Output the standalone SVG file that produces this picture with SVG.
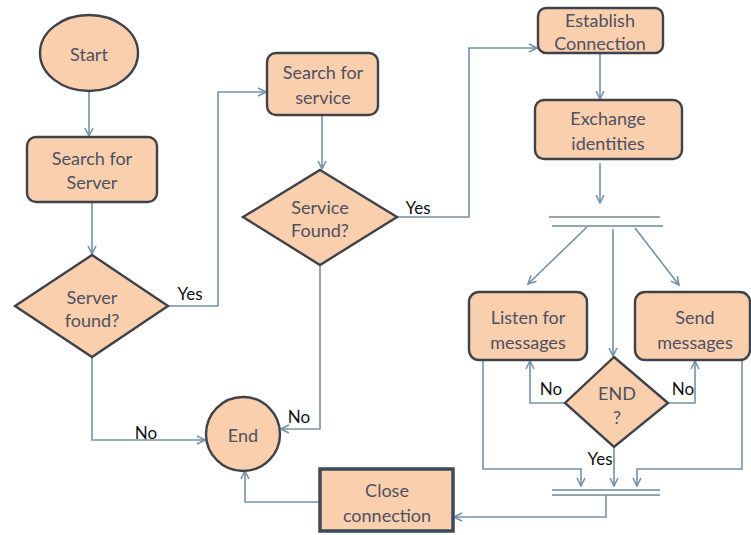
<svg xmlns="http://www.w3.org/2000/svg" width="751" height="535" viewBox="0 0 751 535">
  <style>
    .node { fill: #f9cfae; stroke: #3f4248; stroke-width: 2.4; }
    .thick { stroke: #3c4a5a; stroke-width: 3.5; }
    .txt { font-family: Lato, "Open Sans", sans-serif; font-size: 18px; fill: #4f5060; text-anchor: middle; dominant-baseline: central; }
    .lbl { font-family: Lato, "Open Sans", sans-serif; font-size: 17px; fill: #111111; text-anchor: middle; dominant-baseline: central; }
    .conn { fill: none; stroke: #7591a8; stroke-width: 1.6; }
    .bar { fill: none; stroke: #93a5b3; stroke-width: 2.2; }
  </style>
  <defs>
    <marker id="arrow" viewBox="0 0 10 10" refX="9" refY="5" markerWidth="10" markerHeight="10" markerUnits="userSpaceOnUse" orient="auto">
      <path d="M1,1 L9,5 L1,9" fill="none" stroke="#7591a8" stroke-width="1.6"/>
    </marker>
  </defs>
  <rect width="751" height="535" fill="#ffffff"/>

  <g id="connectors">
    <path class="conn" d="M89,92 V136" marker-end="url(#arrow)"/>
    <path class="conn" d="M92,202 V254" marker-end="url(#arrow)"/>
    <path class="conn" d="M168,306 H218 V92 H266" marker-end="url(#arrow)"/>
    <path class="conn" d="M322,115 V169" marker-end="url(#arrow)"/>
    <path class="conn" d="M397,217 H469 V48 H537" marker-end="url(#arrow)"/>
    <path class="conn" d="M600,53 V99" marker-end="url(#arrow)"/>
    <path class="conn" d="M600,163 V203" marker-end="url(#arrow)"/>
    <!-- fork -->
    <line class="bar" x1="549" y1="217" x2="660" y2="217"/>
    <line class="bar" x1="552" y1="226" x2="663" y2="226"/>
    <path class="conn" d="M587,227 L528,284" marker-end="url(#arrow)"/>
    <path class="conn" d="M613,229 V356" marker-end="url(#arrow)"/>
    <path class="conn" d="M635,228 L679,285" marker-end="url(#arrow)"/>
    <!-- END? loops -->
    <path class="conn" d="M565,403 H530 V361" marker-end="url(#arrow)"/>
    <path class="conn" d="M668,403 H695 V361" marker-end="url(#arrow)"/>
    <!-- join -->
    <path class="conn" d="M483,360 V469 H581 V486" marker-end="url(#arrow)"/>
    <path class="conn" d="M614,447 V486" marker-end="url(#arrow)"/>
    <path class="conn" d="M742,360 V469 H637 V486" marker-end="url(#arrow)"/>
    <line class="bar" x1="552" y1="490" x2="660" y2="490"/>
    <line class="bar" x1="552" y1="495" x2="660" y2="495"/>
    <path class="conn" d="M606,495 V517 H454" marker-end="url(#arrow)"/>
    <!-- to End -->
    <path class="conn" d="M92,357 V440 H205" marker-end="url(#arrow)"/>
    <path class="conn" d="M320,265 V429 H281" marker-end="url(#arrow)"/>
    <path class="conn" d="M319,502 H245 V471" marker-end="url(#arrow)"/>
  </g>

  <g id="start">
    <ellipse class="node" cx="89" cy="53" rx="49" ry="38"/>
    <text class="txt" x="89" y="54">Start</text>
  </g>
  <g id="search-server">
    <rect class="node" x="27" y="137" width="130" height="65" rx="9"/>
    <text class="txt" x="92" y="158">Search for</text>
    <text class="txt" x="92" y="182">Server</text>
  </g>
  <g id="server-found">
    <polygon class="node" points="92,255 168,306 92,357 15,306"/>
    <text class="txt" x="92" y="297">Server</text>
    <text class="txt" x="92" y="320">found?</text>
  </g>
  <g id="search-service">
    <rect class="node" x="267" y="53" width="111" height="62" rx="9"/>
    <text class="txt" x="323" y="72">Search for</text>
    <text class="txt" x="323" y="97">service</text>
  </g>
  <g id="service-found">
    <polygon class="node" points="320,170 397,217 320,265 243,217"/>
    <text class="txt" x="320" y="207">Service</text>
    <text class="txt" x="320" y="230">Found?</text>
  </g>
  <g id="establish">
    <rect class="node" x="538" y="8" width="125" height="45" rx="8"/>
    <text class="txt" x="600" y="20">Establish</text>
    <text class="txt" x="600" y="43">Connection</text>
  </g>
  <g id="exchange">
    <rect class="node" x="535" y="100" width="147" height="59" rx="9"/>
    <text class="txt" x="608" y="118">Exchange</text>
    <text class="txt" x="608" y="143">identities</text>
  </g>
  <g id="listen">
    <rect class="node" x="469" y="292" width="118" height="68" rx="10"/>
    <text class="txt" x="528" y="317">Listen for</text>
    <text class="txt" x="528" y="342">messages</text>
  </g>
  <g id="send">
    <rect class="node" x="635" y="292" width="115" height="68" rx="10"/>
    <text class="txt" x="695" y="317">Send</text>
    <text class="txt" x="695" y="342">messages</text>
  </g>
  <g id="end-check">
    <polygon class="node" points="614,357 668,403 614,447 565,403"/>
    <text class="txt" x="617" y="393">END</text>
    <text class="txt" x="617" y="417">?</text>
  </g>
  <g id="end">
    <circle class="node" cx="243" cy="434" r="37"/>
    <text class="txt" x="243" y="435">End</text>
  </g>
  <g id="close">
    <rect class="node thick" x="320" y="469" width="133" height="62"/>
    <text class="txt" x="387" y="490">Close</text>
    <text class="txt" x="387" y="515">connection</text>
  </g>

  <g id="labels">
    <text class="lbl" x="190" y="293">Yes</text>
    <text class="lbl" x="418" y="207">Yes</text>
    <text class="lbl" x="146" y="432">No</text>
    <text class="lbl" x="299" y="416">No</text>
    <text class="lbl" x="551" y="388">No</text>
    <text class="lbl" x="683" y="388">No</text>
    <text class="lbl" x="600" y="458">Yes</text>
  </g>
</svg>
